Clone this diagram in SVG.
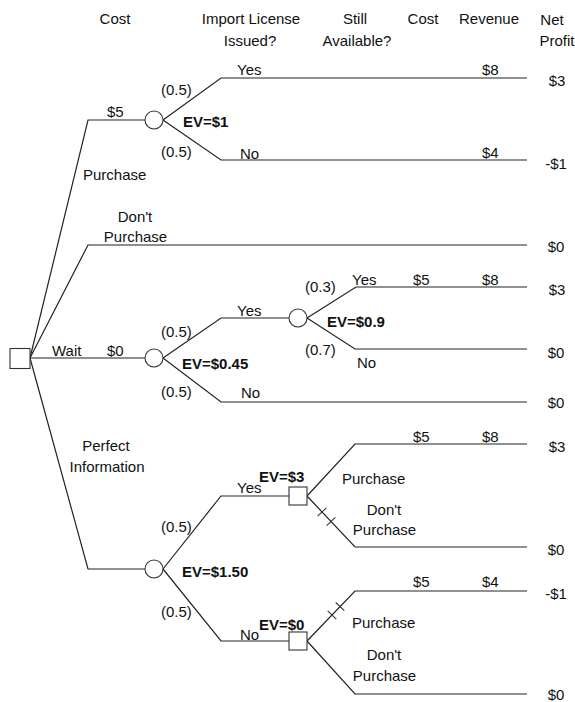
<svg xmlns="http://www.w3.org/2000/svg" width="575" height="702" viewBox="0 0 575 702">
<style>
text{font-family:"Liberation Sans",Arial,sans-serif;font-size:15px;fill:#111}
.b{font-weight:bold}
.m{text-anchor:middle}
.ln{fill:none;stroke:#222;stroke-width:1.2;stroke-linejoin:miter}
.nd{fill:#fff;stroke:#333;stroke-width:1.1}
.hs{stroke:#333;stroke-width:1.1}
</style>
<rect width="575" height="702" fill="#fff"/>
<g id="header">
<text class="m" x="115" y="24">Cost</text>
<text class="m" x="251" y="24">Import License</text>
<text class="m" x="250" y="46">Issued?</text>
<text class="m" x="355" y="24">Still</text>
<text class="m" x="357" y="46">Available?</text>
<text class="m" x="423" y="24">Cost</text>
<text class="m" x="489" y="24">Revenue</text>
<text class="m" x="552" y="25">Net</text>
<text class="m" x="557" y="46">Profit</text>
</g>
<g id="connectors">
<polyline class="ln" points="30,358 88,120 145,120"/>
<polyline class="ln" points="163,120 221,78 527,78"/>
<polyline class="ln" points="163,120 221,160 527,160"/>
<polyline class="ln" points="30,358 88,245 527,245"/>
<polyline class="ln" points="30,358 145,358"/>
<polyline class="ln" points="163,358 221,318 289,318"/>
<polyline class="ln" points="307,318 356,287 527,287"/>
<polyline class="ln" points="307,318 355,349 527,349"/>
<polyline class="ln" points="163,358 221,402 527,402"/>
<polyline class="ln" points="30,358 88,569 145,569"/>
<polyline class="ln" points="163,569 221,496 289,496"/>
<polyline class="ln" points="307,496 355,444 527,444"/>
<polyline class="ln" points="307,496 355,547 527,547"/>
<polyline class="ln" points="163,569 221,641 289,641"/>
<polyline class="ln" points="307,641 355,591 527,591"/>
<polyline class="ln" points="307,641 355,694 527,694"/>
<line class="hs" x1="317.6" y1="516.1" x2="326.4" y2="507.9"/>
<line class="hs" x1="326.6" y1="525.6" x2="335.4" y2="517.4"/>
<line class="hs" x1="327.7" y1="610.9" x2="336.3" y2="619.1"/>
<line class="hs" x1="335.7" y1="602.5" x2="344.3" y2="610.7"/>
<text x="83" y="180">Purchase</text>
<text x="107" y="117">$5</text>
<text class="m" x="135" y="222">Don't</text>
<text class="m" x="135.5" y="242">Purchase</text>
<text x="52" y="356">Wait</text>
<text x="107" y="356">$0</text>
<text class="m" x="106" y="451">Perfect</text>
<text class="m" x="107" y="472">Information</text>
<text x="161" y="95">(0.5)</text>
<text x="237" y="75">Yes</text>
<text x="482" y="75">$8</text>
<text x="161" y="157">(0.5)</text>
<text x="240" y="159">No</text>
<text x="482" y="158">$4</text>
<text x="161" y="337">(0.5)</text>
<text x="237" y="316">Yes</text>
<text x="161" y="397">(0.5)</text>
<text x="241" y="398">No</text>
<text x="305" y="292">(0.3)</text>
<text x="352" y="285">Yes</text>
<text x="413" y="285">$5</text>
<text x="482" y="285">$8</text>
<text x="305" y="355">(0.7)</text>
<text x="357" y="368">No</text>
<text x="161" y="532">(0.5)</text>
<text x="237" y="493">Yes</text>
<text x="161" y="617">(0.5)</text>
<text x="240" y="640">No</text>
<text x="413" y="442">$5</text>
<text x="482" y="442">$8</text>
<text x="342" y="484">Purchase</text>
<text class="m" x="384" y="515">Don't</text>
<text class="m" x="384.5" y="535">Purchase</text>
<text x="413" y="587">$5</text>
<text x="482" y="587">$4</text>
<text x="352" y="628">Purchase</text>
<text class="m" x="384" y="660">Don't</text>
<text class="m" x="384.5" y="681">Purchase</text>
</g>
<g id="root">
<rect class="nd" x="10" y="348.5" width="20" height="20"/>
</g>
<g id="chance-purchase">
<circle class="nd" cx="154" cy="120" r="9"/>
<text class="b" x="183" y="127">EV=$1</text>
</g>
<g id="chance-wait">
<circle class="nd" cx="154" cy="358" r="9"/>
<text class="b" x="182" y="369">EV=$0.45</text>
</g>
<g id="chance-available">
<circle class="nd" cx="298" cy="318" r="9"/>
<text class="b" x="327" y="327">EV=$0.9</text>
</g>
<g id="chance-info">
<circle class="nd" cx="154" cy="569" r="9"/>
<text class="b" x="182" y="577">EV=$1.50</text>
</g>
<g id="decision-yes">
<rect class="nd" x="289" y="487" width="18" height="18"/>
<text class="b" x="259" y="482">EV=$3</text>
</g>
<g id="decision-no">
<rect class="nd" x="289" y="632" width="18" height="18"/>
<text class="b" x="259" y="630">EV=$0</text>
</g>
<g id="payoffs">
<text class="m" x="557" y="86">$3</text>
<text class="m" x="556" y="169">-$1</text>
<text class="m" x="556" y="252">$0</text>
<text class="m" x="557" y="295">$3</text>
<text class="m" x="556" y="358">$0</text>
<text class="m" x="556" y="408">$0</text>
<text class="m" x="557" y="452">$3</text>
<text class="m" x="556" y="555">$0</text>
<text class="m" x="556" y="599">-$1</text>
<text class="m" x="556" y="700">$0</text>
</g>
</svg>
